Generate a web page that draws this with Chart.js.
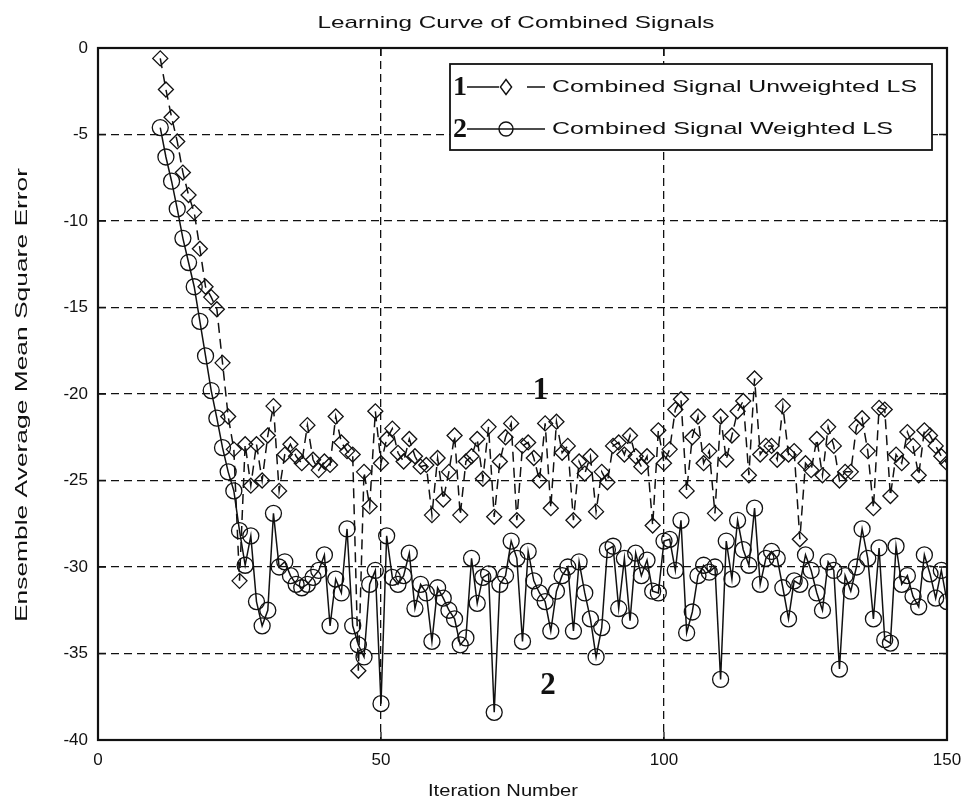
<!DOCTYPE html>
<html lang="en">
<head>
<meta charset="utf-8">
<title>Learning Curve of Combined Signals</title>
<script src="https://cdn.jsdelivr.net/npm/chart.js@4.4.0/dist/chart.umd.min.js"></script>
<style>
  html, body { margin: 0; padding: 0; background: #fff; }
  canvas { display: block; }
</style>
</head>
<body>
<canvas id="learningCurve" width="972" height="807"></canvas>
<script>
// Iterations start at 11 and run to 150, one sample per iteration
const firstIteration = 11;

// Ensemble average MSE (dB), unweighted LS combiner
const unweightedLS = [
  -0.6, -2.4, -4.0, -5.4, -7.2, -8.5, -9.5, -11.6, -13.8, -14.4,
  -15.1, -18.2, -21.3, -23.2, -30.8, -22.9, -25.3, -22.9, -25.0, -22.4,
  -20.7, -25.6, -23.5, -22.9, -23.6, -24.0, -21.8, -23.8, -24.4, -23.9,
  -24.1, -21.3, -22.8, -23.3, -23.5, -36.0, -24.5, -26.5, -21.0, -24.0,
  -22.6, -22.0, -23.4, -23.9, -22.6, -23.6, -24.2, -24.1, -27.0, -23.7,
  -26.1, -24.5, -22.4, -27.0, -23.9, -23.6, -22.6, -24.9, -21.9, -27.1,
  -23.9, -22.5, -21.7, -27.3, -23.0, -22.8, -23.7, -25.0, -21.7, -26.6,
  -21.6, -23.4, -23.0, -27.3, -23.9, -24.6, -23.6, -26.8, -24.5, -25.1,
  -23.0, -22.8, -23.5, -22.4, -23.6, -24.2, -23.6, -27.6, -22.1, -24.0,
  -23.2, -20.9, -20.3, -25.6, -22.5, -21.3, -24.0, -23.3, -26.9, -21.3,
  -23.8, -22.4, -21.0, -20.4, -24.7, -19.1, -23.5, -23.0, -23.0, -23.8,
  -20.7, -23.5, -23.3, -28.4, -24.0, -24.4, -22.6, -24.7, -21.9, -23.0,
  -25.0, -24.5, -24.5, -21.9, -21.4, -23.3, -26.6, -20.8, -20.9, -25.9,
  -23.5, -24.0, -22.2, -23.0, -24.7, -22.1, -22.4, -23.0, -23.6, -24.0
];

// Ensemble average MSE (dB), weighted LS combiner
const weightedLS = [
  -4.6, -6.3, -7.7, -9.3, -11.0, -12.4, -13.8, -15.8, -17.8, -19.8,
  -21.4, -23.1, -24.5, -25.6, -27.9, -29.9, -28.2, -32.0, -33.4, -32.5,
  -26.9, -30.0, -29.7, -30.5, -31.0, -31.2, -31.0, -30.6, -30.2, -29.3,
  -33.4, -30.7, -31.5, -27.8, -33.4, -34.5, -35.2, -31.0, -30.2, -37.9,
  -28.2, -30.6, -31.0, -30.5, -29.2, -32.4, -31.0, -31.5, -34.3, -31.2,
  -31.8, -32.5, -33.0, -34.5, -34.1, -29.5, -32.1, -30.6, -30.4, -38.4,
  -31.0, -30.5, -28.5, -29.5, -34.3, -29.1, -30.8, -31.5, -32.0, -33.7,
  -31.4, -30.5, -30.0, -33.7, -29.7, -31.5, -33.0, -35.2, -33.5, -29.0,
  -28.8, -32.4, -29.5, -33.1, -29.2, -30.5, -29.6, -31.4, -31.5, -28.5,
  -28.4, -30.2, -27.3, -33.8, -32.6, -30.5, -29.9, -30.3, -30.0, -36.5,
  -28.5, -30.7, -27.3, -29.0, -29.9, -26.6, -31.0, -29.5, -29.1, -29.5,
  -31.2, -33.0, -30.8, -31.0, -29.3, -30.2, -31.5, -32.5, -29.7, -30.2,
  -35.9, -30.5, -31.4, -30.0, -27.8, -29.5, -33.0, -28.9, -34.2, -34.4,
  -28.8, -31.0, -30.5, -31.7, -32.3, -29.3, -30.4, -31.8, -30.2, -32.0
];

// Axis ticks
const xTicks = [0, 50, 100, 150];
const yTicks = [-40, -35, -30, -25, -20, -15, -10, -5, 0];

const seriesNames = ["Combined Signal Unweighted LS", "Combined Signal Weighted LS"];

// Curve tags placed in data coordinates
const curveTags = [
  { text: "1", x: 78.2, y: -19.8 },
  { text: "2", x: 79.5, y: -36.9 }
];

const toPoints = (vals) => vals.map((v, i) => ({ x: firstIteration + i, y: v }));

const INK = "#111";
const SANS = "Arial, 'Liberation Sans', sans-serif";
const SERIF = "'Times New Roman', 'Liberation Serif', serif";

// fillText squeezed/stretched horizontally to a target width
function drawFitted(ctx, text, x, y, width, font, angle) {
  ctx.save();
  ctx.font = font;
  const w = ctx.measureText(text).width;
  ctx.translate(x, y);
  if (angle) ctx.rotate(angle);
  ctx.scale(width / w, 1);
  ctx.textAlign = "center";
  ctx.textBaseline = "middle";
  ctx.fillStyle = INK;
  ctx.fillText(text, 0, 0);
  ctx.restore();
}

function diamond(ctx, cx, cy, r) {
  ctx.beginPath();
  ctx.moveTo(cx, cy - r);
  ctx.lineTo(cx + r * 0.75, cy);
  ctx.lineTo(cx, cy + r);
  ctx.lineTo(cx - r * 0.75, cy);
  ctx.closePath();
  ctx.stroke();
}

const decorations = {
  id: "decorations",
  beforeDraw(chart) {
    const ctx = chart.ctx;
    ctx.save();
    ctx.fillStyle = "#fff";
    ctx.fillRect(0, 0, chart.width, chart.height);
    ctx.restore();
  },
  afterDatasetsDraw(chart) {
    const ctx = chart.ctx;
    const a = chart.chartArea;
    const xs = chart.scales.x, ys = chart.scales.y;

    ctx.save();
    // axes box
    ctx.strokeStyle = INK;
    ctx.lineWidth = 2.2;
    ctx.strokeRect(a.left, a.top, a.right - a.left, a.bottom - a.top);

    // inward tick marks on all four sides
    ctx.lineWidth = 1.3;
    ctx.beginPath();
    xTicks.forEach((t) => {
      const px = xs.getPixelForValue(t);
      ctx.moveTo(px, a.bottom); ctx.lineTo(px, a.bottom - 8);
      ctx.moveTo(px, a.top); ctx.lineTo(px, a.top + 8);
    });
    yTicks.forEach((t) => {
      const py = ys.getPixelForValue(t);
      ctx.moveTo(a.left, py); ctx.lineTo(a.left + 8, py);
      ctx.moveTo(a.right, py); ctx.lineTo(a.right - 8, py);
    });
    ctx.stroke();

    // curve tags
    ctx.fillStyle = INK;
    ctx.font = "bold 31px " + SERIF;
    ctx.textAlign = "center";
    ctx.textBaseline = "middle";
    curveTags.forEach((t) => {
      ctx.fillText(t.text, xs.getPixelForValue(t.x), ys.getPixelForValue(t.y));
    });

    // legend
    const lx = 450, ly = 64, lw = 482, lh = 86;
    ctx.fillStyle = "#fff";
    ctx.fillRect(lx, ly, lw, lh);
    ctx.lineWidth = 1.8;
    ctx.strokeStyle = INK;
    ctx.strokeRect(lx, ly, lw, lh);

    const rows = [ly + 23, ly + 65];
    ctx.lineWidth = 1.4;
    // row 1: dashed line with diamond
    ctx.beginPath();
    ctx.moveTo(467, rows[0]); ctx.lineTo(499, rows[0]);
    ctx.moveTo(527, rows[0]); ctx.lineTo(545, rows[0]);
    ctx.stroke();
    diamond(ctx, 506, rows[0], 7.5);
    // row 2: solid line with circle
    ctx.beginPath();
    ctx.moveTo(467, rows[1]); ctx.lineTo(545, rows[1]);
    ctx.stroke();
    ctx.beginPath();
    ctx.arc(506, rows[1], 7, 0, Math.PI * 2);
    ctx.stroke();

    ctx.fillStyle = INK;
    ctx.font = "bold 28px " + SERIF;
    ctx.textAlign = "center";
    ctx.fillText("1", 460, rows[0] + 1);
    ctx.fillText("2", 460, rows[1] + 1);
    ctx.restore();

    drawFitted(ctx, seriesNames[0], 552 + 365 / 2, rows[0], 365, "17px " + SANS);
    drawFitted(ctx, seriesNames[1], 552 + 341 / 2, rows[1], 341, "17px " + SANS);
  },
  afterDraw(chart) {
    const ctx = chart.ctx;
    drawFitted(ctx, "Learning Curve of Combined Signals", 516, 23, 397, "17px " + SANS);
    drawFitted(ctx, "Iteration Number", 503, 791, 150, "17px " + SANS);
    drawFitted(ctx, "Ensemble Average Mean Square Error", 22, 395, 454, "17px " + SANS, -Math.PI / 2);
  }
};

const ctx = document.getElementById("learningCurve").getContext("2d");

new Chart(ctx, {
  type: "line",
  data: {
    datasets: [
      {
        label: seriesNames[0],
        data: toPoints(unweightedLS),
        borderColor: INK,
        borderWidth: 1.5,
        borderDash: [10, 6],
        pointStyle: "rectRot",
        pointRadius: 7.5,
        pointBorderColor: INK,
        pointBackgroundColor: "rgba(0,0,0,0)",
        pointBorderWidth: 1.3,
        tension: 0
      },
      {
        label: seriesNames[1],
        data: toPoints(weightedLS),
        borderColor: INK,
        borderWidth: 1.5,
        pointStyle: "circle",
        pointRadius: 8,
        pointBorderColor: INK,
        pointBackgroundColor: "rgba(0,0,0,0)",
        pointBorderWidth: 1.3,
        tension: 0
      }
    ]
  },
  options: {
    responsive: false,
    animation: false,
    devicePixelRatio: 1,
    layout: { padding: { top: 48, right: 25, left: 0, bottom: 0 } },
    plugins: {
      legend: { display: false },
      title: { display: false },
      tooltip: { enabled: false }
    },
    scales: {
      x: {
        type: "linear",
        min: xTicks[0],
        max: xTicks[xTicks.length - 1],
        afterBuildTicks: (s) => { s.ticks = xTicks.map((v) => ({ value: v })); },
        ticks: { color: INK, font: { family: SANS, size: 17 }, padding: 10 },
        grid: { color: INK, lineWidth: 1.3, drawTicks: false },
        border: { display: false, dash: [8, 5] },
        afterFit: (s) => { s.height = 67; }
      },
      y: {
        type: "linear",
        min: yTicks[0],
        max: yTicks[yTicks.length - 1],
        afterBuildTicks: (s) => { s.ticks = yTicks.map((v) => ({ value: v })); },
        ticks: { color: INK, font: { family: SANS, size: 17 }, padding: 10 },
        grid: { color: INK, lineWidth: 1.3, drawTicks: false },
        border: { display: false, dash: [8, 5] },
        afterFit: (s) => { s.width = 98; }
      }
    }
  },
  plugins: [decorations]
});
</script>
</body>
</html>
